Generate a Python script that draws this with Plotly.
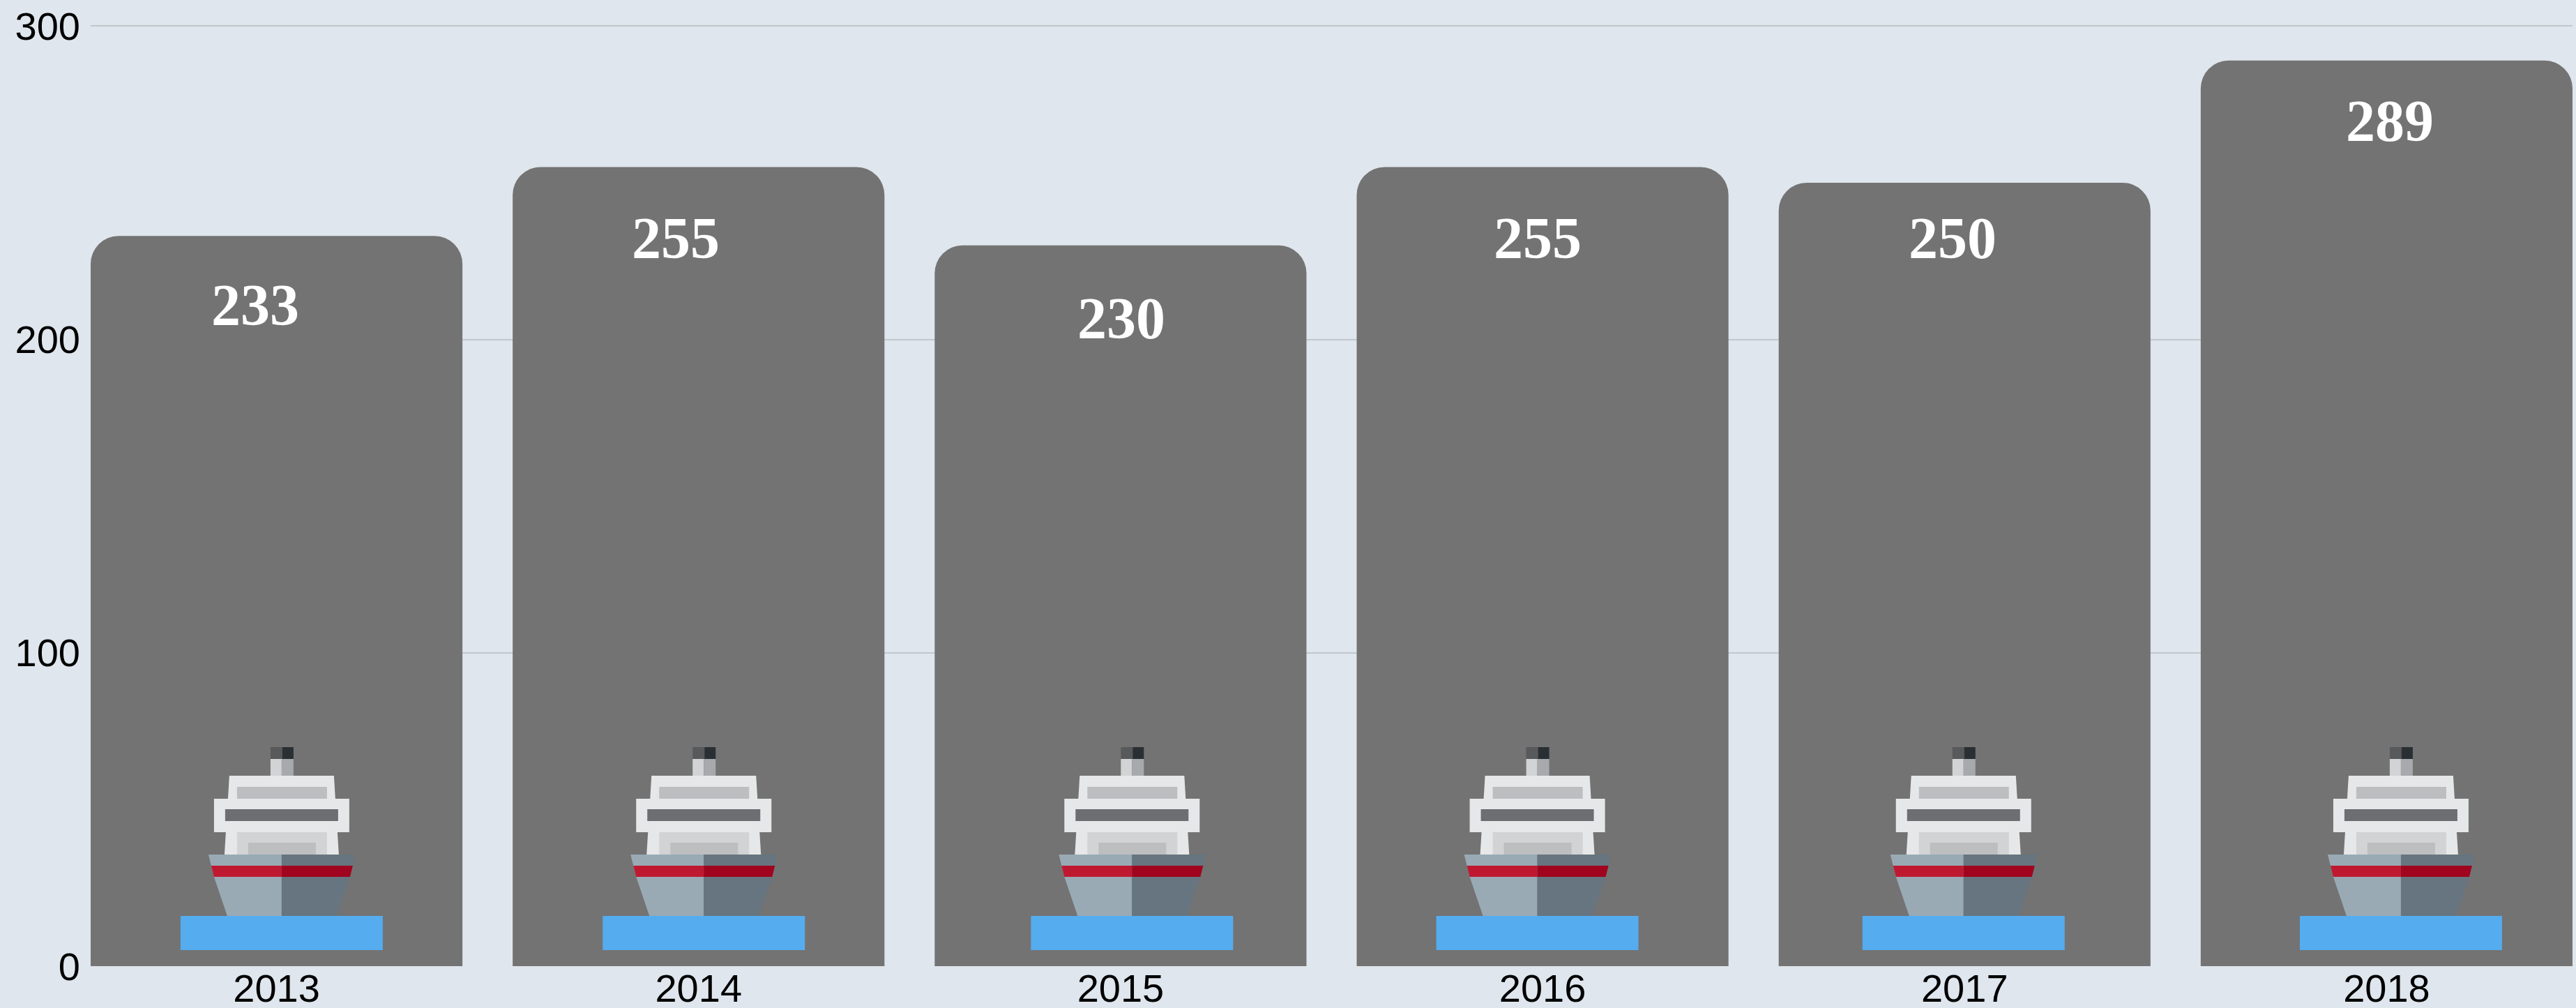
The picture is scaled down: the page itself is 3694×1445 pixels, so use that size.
import plotly.graph_objects as go

years = ["2013", "2014", "2015", "2016", "2017", "2018"]
values = [233, 255, 230, 255, 250, 289]
y_ticks = [0, 100, 200, 300]
ship_offset = [7.3, 7.5, 16.4, -7.5, -1.5, 20.5]
label_dx = [-31, -32.5, 1, -7.5, -17.5, 4.5]
label_drop = [99, 102, 105, 102, 80, 87]

BG = "#dfe6ed"
BAR = "#737373"
GRID = "#c2c7cc"
FS = 56

# Icon parts: colour and outline, in pixels from the ship's centre and the axis baseline
ship_parts = [
    ("#55acee", [(-145, 23), (145, 23), (145, 72), (-145, 72)]),
    ("#58595b", [(-16, 297), (1, 297), (1, 314), (-16, 314)]),
    ("#292f33", [(1, 297), (17, 297), (17, 314), (1, 314)]),
    ("#d1d3d4", [(-16, 273), (0, 273), (0, 297), (-16, 297)]),
    ("#a7a9ac", [(0, 273), (17, 273), (17, 297), (0, 297)]),
    ("#e6e7e8", [(-77, 240), (77, 240), (75, 273), (-75, 273)]),
    ("#e6e7e8", [(-82, 160), (82, 160), (80, 192), (-80, 192)]),
    ("#d1d3d4", [(-64, 160), (65, 160), (65, 193), (-64, 193)]),
    ("#bcbec0", [(-48, 160), (49, 160), (49, 177), (-48, 177)]),
    ("#e6e7e8", [(-97, 192), (97, 192), (97, 240), (-97, 240)]),
    ("#bcbec0", [(-64, 240), (65, 240), (65, 257), (-64, 257)]),
    ("#6d6e71", [(-81, 208), (81, 208), (81, 225), (-81, 225)]),
    ("#99aab5", [(-78, 72), (0, 72), (0, 160), (-105, 160), (-101, 144), (-97, 128)]),
    ("#66757f", [(0, 72), (79, 72), (98, 128), (102, 144), (105, 160), (0, 160)]),
    ("#be1931", [(-97, 128), (0, 128), (0, 144), (-101, 144)]),
    ("#a0041e", [(0, 128), (98, 128), (102, 144), (0, 144)]),
]


def path(points):
    return "M " + " L ".join(f"{x} {y}" for x, y in points) + " Z"


xs = list(range(len(years)))
fig = go.Figure(
    go.Bar(
        x=xs,
        y=values,
        width=0.881,
        marker=dict(color=BAR, cornerradius=40, line=dict(width=0)),
    )
)

shapes = []
for i, off in zip(xs, ship_offset):
    for color, pts in ship_parts:
        shapes.append(dict(
            type="path",
            xsizemode="pixel", ysizemode="pixel",
            xanchor=i, yanchor=0, xref="x", yref="y",
            path=path([(x + off, y) for x, y in pts]),
            fillcolor=color, line=dict(width=0), layer="above",
        ))

annotations = [
    dict(
        x=i, y=v, xref="x", yref="y", text=str(v), showarrow=False,
        xshift=dx, yshift=-drop, yanchor="middle", xanchor="center",
        font=dict(family="Liberation Serif", size=84, color="white", weight="bold"),
    )
    for i, v, dx, drop in zip(xs, values, label_dx, label_drop)
]

fig.update_layout(
    width=3694, height=1445,
    margin=dict(l=130, r=5, t=0, b=60, autoexpand=False),
    paper_bgcolor=BG, plot_bgcolor=BG,
    showlegend=False,
    shapes=shapes, annotations=annotations,
    font=dict(family="Liberation Sans", size=FS, color="black"),
    xaxis=dict(
        range=[-0.4405, 5.4405], tickmode="array", tickvals=xs, ticktext=years,
        showgrid=False, zeroline=False, showline=False, ticks="", ticklen=0,
        tickfont=dict(size=FS, color="black"),
        ticklabelstandoff=-6,
    ),
    yaxis=dict(
        range=[0, 308.3], tickmode="array", tickvals=y_ticks,
        showgrid=True, gridcolor=GRID, gridwidth=2, zeroline=False, showline=False,
        ticks="", ticklen=0, tickfont=dict(size=FS, color="black"),
        ticklabelstandoff=14,
    ),
)

fig.write_html(
    "out.html",
    config={"displayModeBar": False},
    post_script=f"document.body.style.margin='0';document.body.style.background='{BG}';",
)
